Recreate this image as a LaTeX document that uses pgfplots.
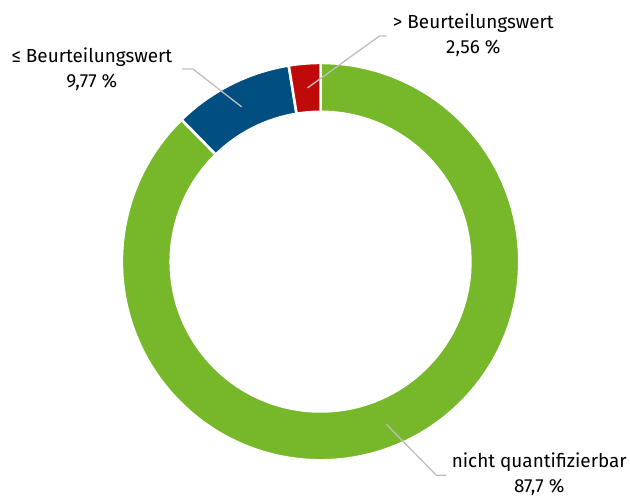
\documentclass[border=0pt]{standalone}
\usepackage{fontspec}
\setmainfont{Fira Sans}
\usepackage{pgfplots}
\usepackage{pgfplotstable}
\pgfplotsset{compat=1.18}
\usetikzlibrary{calc}

\definecolor{gruen}{RGB}{118,184,42}
\definecolor{blau}{RGB}{0,79,128}
\definecolor{rot}{RGB}{192,10,10}
\definecolor{linie}{RGB}{190,190,190}

% Anteile in %
\pgfplotstableread{
label share
ueber 2.56
unter 9.77
nq 87.7
}\anteile

% Ring-Segment: Startwinkel, Endwinkel, Farbe
\newcommand\seg[3]{%
  \filldraw[fill=#3, draw=white, line width=2.6bp]
    ($(axis cs:321,235)+(#1:199bp)$) arc[start angle=#1, end angle=#2, radius=199bp]
    -- ($(axis cs:321,235)+(#2:150bp)$) arc[start angle=#2, end angle=#1, radius=150bp]
    -- cycle;}

\begin{document}
\begin{tikzpicture}
\pgfplotstablegetelem{0}{share}\of\anteile \let\ra\pgfplotsretval
\pgfplotstablegetelem{1}{share}\of\anteile \let\rb\pgfplotsretval
\pgfmathsetmacro\wa{90+3.6*\ra}
\pgfmathsetmacro\wb{\wa+3.6*\rb}
\begin{axis}[
  hide axis, scale only axis,
  width=630bp, height=497bp,
  xmin=0, xmax=630, ymin=0, ymax=497,
  clip=false,
]
\path (axis cs:0,0) rectangle (axis cs:630,497);
\seg{\wb}{450}{gruen}
\seg{\wa}{\wb}{blau}
\seg{90}{\wa}{rot}

\draw[linie, line width=1.3bp] (axis cs:242,390) -- (axis cs:193,428) -- (axis cs:182,428);
\draw[linie, line width=1.3bp] (axis cs:308,409) -- (axis cs:380,461) -- (axis cs:387,461);
\draw[linie, line width=1.3bp] (axis cs:387,72) -- (axis cs:437,21) -- (axis cs:447,21);

\node[align=center, font=\fontsize{19}{25}\selectfont] at (axis cs:92,428) {≤ Beurteilungswert\\9,77 \%};
\node[align=center, font=\fontsize{19}{25}\selectfont] at (axis cs:474,462) {> Beurteilungswert\\2,56 \%};
\node[align=center, font=\fontsize{19}{25}\selectfont] at (axis cs:540,22) {nicht quantifizierbar\\87,7 \%};
\end{axis}
\end{tikzpicture}
\end{document}
